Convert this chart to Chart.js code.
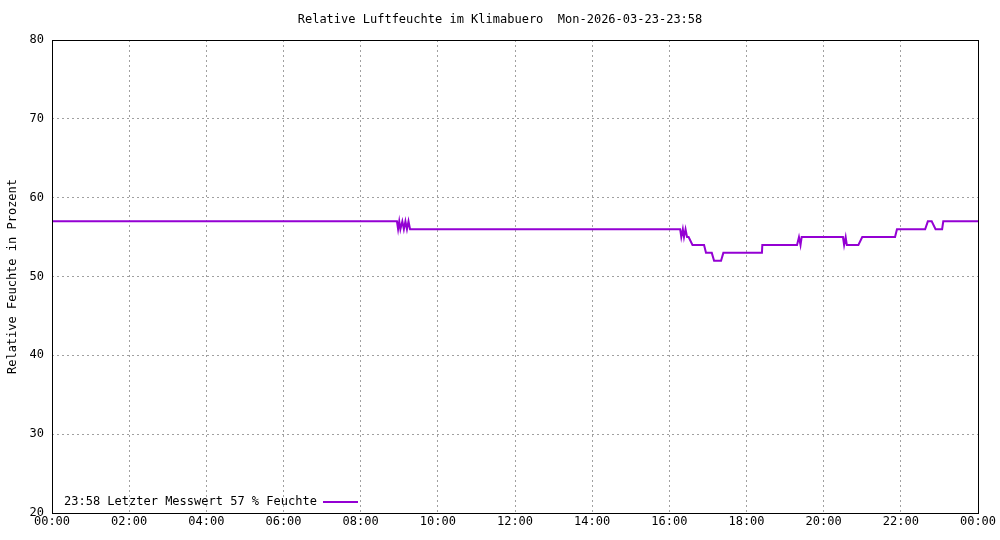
<!DOCTYPE html>
<html>
<head>
<meta charset="utf-8">
<script src="https://cdn.jsdelivr.net/npm/chart.js@4"></script>
<style>
  body { margin: 0; background: #fff; }
  #wrap { width: 1000px; height: 540px; }
</style>
</head>
<body>
<div id="wrap"><canvas id="chart"></canvas></div>
<script>
// time in hours, relative humidity in %
const hours = [0, 8.94, 8.97, 9.0, 9.03, 9.08, 9.12, 9.16, 9.2, 9.24, 9.28, 9.33,
  16.28, 16.31, 16.35, 16.38, 16.42, 16.46, 16.5, 16.6, 16.9, 16.95, 17.1, 17.16, 17.34, 17.4,
  18.4, 18.41, 19.31, 19.36, 19.4, 19.43, 19.47, 20.5, 20.53, 20.57, 20.6, 20.65, 20.9, 21.0,
  21.85, 21.9, 22.63, 22.7, 22.8, 22.9, 23.07, 23.1, 24.0];
const humidity = [57, 57, 56, 57, 56, 57, 56, 57, 56, 57, 56, 56,
  56, 55, 56, 55, 56, 55, 55, 54, 54, 53, 53, 52, 52, 53,
  53, 54, 54, 55, 54, 55, 55, 55, 54, 55, 54, 54, 54, 55,
  55, 56, 56, 57, 57, 56, 56, 57, 57];
const yTicks = [20, 30, 40, 50, 60, 70, 80];
const chartTitle = "Relative Luftfeuchte im Klimabuero  Mon-2026-03-23-23:58";
const yTitle = "Relative Feuchte in Prozent";
const legendText = "23:58 Letzter Messwert 57 % Feuchte";

const FONT = "'DejaVu Sans Mono', 'Liberation Mono', monospace";
const LINE = "#9400d3";

const points = hours.map((h, i) => ({ x: h, y: humidity[i] }));

const decor = {
  id: "decor",
  afterDraw(chart) {
    const { ctx, chartArea: a } = chart;
    ctx.save();
    ctx.strokeStyle = "#000";
    ctx.lineWidth = 1;
    ctx.strokeRect(a.left + 0.5, a.top + 0.5, a.right - a.left, a.bottom - a.top);
    ctx.fillStyle = "#000";
    ctx.font = "12px " + FONT;
    ctx.textAlign = "center";
    ctx.textBaseline = "middle";
    ctx.fillText(chartTitle, 500, 20);
    ctx.save();
    ctx.translate(13, (a.top + a.bottom) / 2);
    ctx.rotate(-Math.PI / 2);
    ctx.fillText(yTitle, 0, 0);
    ctx.restore();
    ctx.textAlign = "left";
    ctx.fillText(legendText, 64, 502);
    ctx.strokeStyle = LINE;
    ctx.lineWidth = 2;
    ctx.beginPath();
    ctx.moveTo(323, 502);
    ctx.lineTo(358, 502);
    ctx.stroke();
    ctx.restore();
  }
};

new Chart(document.getElementById("chart"), {
  type: "line",
  data: {
    datasets: [{
      data: points,
      borderColor: LINE,
      borderWidth: 2,
      pointRadius: 0,
      tension: 0,
      fill: false
    }]
  },
  options: {
    responsive: true,
    maintainAspectRatio: false,
    animation: false,
    layout: { padding: { top: 40, right: 22 } },
    plugins: { legend: { display: false }, tooltip: { enabled: false } },
    scales: {
      x: {
        type: "linear",
        min: 0,
        max: 24,
        afterBuildTicks: (s) => { s.ticks = []; for (let h = 0; h <= 24; h += 2) s.ticks.push({ value: h }); },
        afterFit: (s) => { s.height = 27; },
        ticks: {
          color: "#000",
          font: { family: FONT, size: 12 },
          maxRotation: 0,
          padding: 2,
          callback: (v) => String(v % 24).padStart(2, "0") + ":00"
        },
        grid: { color: "#a0a0a0", tickLength: 0, borderDash: [2, 3] },
        border: { dash: [2, 3], display: false }
      },
      y: {
        min: 20,
        max: 80,
        afterBuildTicks: (s) => { s.ticks = yTicks.map((v) => ({ value: v })); },
        afterFit: (s) => { s.width = 52; },
        ticks: { color: "#000", font: { family: FONT, size: 12 }, padding: 8 },
        grid: { color: "#a0a0a0", tickLength: 0 },
        border: { dash: [2, 3], display: false }
      }
    }
  },
  plugins: [decor]
});
</script>
</body>
</html>
